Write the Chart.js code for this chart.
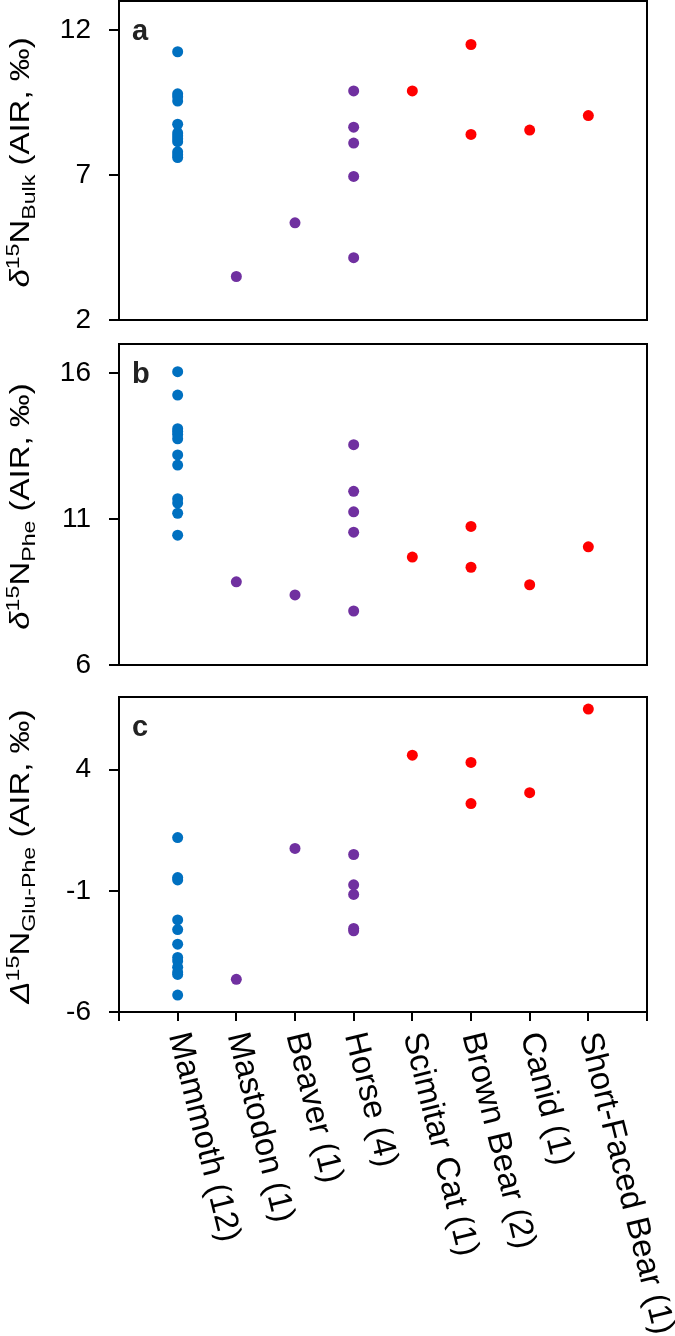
<!DOCTYPE html>
<html>
<head>
<meta charset="utf-8">
<script src="https://cdn.jsdelivr.net/npm/chart.js@4.4.1/dist/chart.umd.min.js"></script>
<style>
  html, body { margin: 0; padding: 0; background: #fff; }
  #wrap { position: relative; width: 675px; height: 1336px; overflow: hidden; background: #fff; }
  #wrap canvas { position: absolute; left: 0; }
</style>
</head>
<body>
<div id="wrap">
  <canvas id="chartA" width="675" height="370" style="top:-30px"></canvas>
  <canvas id="chartB" width="675" height="370" style="top:313px"></canvas>
  <canvas id="chartC" width="675" height="670" style="top:666px"></canvas>
</div>
<script>
// categories on the x axis, and which colour group each one belongs to
const categories = ['Mammoth (12)', 'Mastodon (1)', 'Beaver (1)', 'Horse (4)',
  'Scimitar Cat (1)', 'Brown Bear (2)', 'Canid (1)', 'Short-Faced Bear (1)'];
const categoryGroup = [0, 1, 1, 1, 2, 2, 2, 2];

// panel a: d15N bulk
const bulkN = [
  [11.25, 9.8, 9.7, 9.55, 8.75, 8.45, 8.35, 8.25, 8.15, 7.8, 7.7, 7.6],
  [3.5],
  [5.35],
  [9.9, 8.65, 8.1, 6.95, 4.15],
  [9.9],
  [11.5, 8.4],
  [8.55],
  [9.05]
];
// panel b: d15N Phe
const pheN = [
  [16.05, 15.25, 14.1, 14.0, 13.9, 13.75, 13.2, 12.85, 11.7, 11.55, 11.2, 10.45],
  [8.85],
  [8.4],
  [13.55, 11.95, 11.25, 10.55, 7.85],
  [9.7],
  [10.75, 9.35],
  [8.75],
  [10.05]
];
// panel c: D15N Glu-Phe
const gluPheN = [
  [1.2, -0.45, -0.55, -2.2, -2.6, -3.2, -3.75, -3.9, -4.15, -4.35, -4.45, -5.3],
  [-4.65],
  [0.75],
  [0.5, -0.75, -1.15, -2.55, -2.65],
  [4.6],
  [4.3, 2.6],
  [3.05],
  [6.5]
];

const ticksA = [2, 7, 12];
const ticksB = [6, 11, 16];
const ticksC = [-6, -1, 4];

const groupColors = ['#0070C0', '#7030A0', '#FF0000'];
const FONT = '"Liberation Sans", Arial, sans-serif';

// axis title with super/subscripts, drawn rotated (a bit stretched along its length like the original)
function drawTitle(ctx, parts, cx, cy, size) {
  const small = Math.round(size * 0.7);
  const fontFor = p => (p[1] === 'i' ? 'italic ' : '') +
    ((p[1] === 'sup' || p[1] === 'sub') ? small : size) + 'px ' + FONT;
  let total = 0;
  parts.forEach(p => { ctx.font = fontFor(p); total += ctx.measureText(p[0]).width; });
  ctx.save();
  ctx.translate(cx, cy);
  ctx.rotate(-Math.PI / 2);
  ctx.scale(1.22, 1);
  ctx.fillStyle = '#000';
  ctx.textBaseline = 'alphabetic';
  ctx.textAlign = 'left';
  let x = -total / 2;
  parts.forEach(p => {
    ctx.font = fontFor(p);
    const dy = p[1] === 'sup' ? -size * 0.38 : p[1] === 'sub' ? size * 0.24 : 0;
    ctx.fillText(p[0], x, dy);
    x += ctx.measureText(p[0]).width;
  });
  ctx.restore();
}

function panelDecor(letter, title, showCats) {
  return {
    id: 'decor_' + letter,
    afterDraw(chart) {
      const { ctx, chartArea: a } = chart;
      ctx.save();
      ctx.strokeStyle = '#000';
      ctx.lineWidth = 2;
      ctx.strokeRect(a.left, a.top, a.right - a.left, a.bottom - a.top);

      ctx.fillStyle = '#222';
      ctx.font = 'bold 29px ' + FONT;
      ctx.textBaseline = 'alphabetic';
      ctx.textAlign = 'left';
      ctx.fillText(letter, a.left + 13, a.top + 39);

      drawTitle(ctx, title, 29, (a.top + a.bottom) / 2 + 2, 27);

      if (showCats) {
        const xs = chart.scales.x;
        ctx.fillStyle = '#000';
        ctx.font = '33px ' + FONT;
        ctx.textBaseline = 'middle';
        categories.forEach((c, i) => {
          ctx.save();
          ctx.translate(xs.getPixelForValue(i + 1), a.bottom + 21);
          ctx.rotate(76 * Math.PI / 180);
          ctx.fillText(c, 0, 0);
          ctx.restore();
        });
      }
      ctx.restore();
    }
  };
}

function makeChart(id, values, yMin, yMax, yTicks, letter, title, padBottom, isBottom) {
  const datasets = categories.map((c, i) => ({
    label: c,
    data: values[i].map(v => ({ x: i + 1, y: v })),
    backgroundColor: groupColors[categoryGroup[i]],
    borderWidth: 0,
    pointRadius: 5.5,
    pointHoverRadius: 5.5
  }));

  return new Chart(document.getElementById(id), {
    type: 'scatter',
    data: { datasets },
    options: {
      responsive: false,
      animation: false,
      devicePixelRatio: 1,
      layout: { padding: { top: 31, right: 28, bottom: padBottom, left: 0 } },
      plugins: { legend: { display: false }, tooltip: { enabled: false } },
      scales: {
        x: {
          type: 'linear',
          min: 0,
          max: 9,
          display: isBottom,
          afterBuildTicks: s => { s.ticks = categories.concat(['', '']).map((_, i) => ({ value: i })); },
          ticks: { callback: () => '', autoSkip: false },
          grid: { drawOnChartArea: false, drawTicks: true, tickLength: 9, color: '#000', lineWidth: 2 },
          border: { display: true, color: '#000', width: 2 },
          afterFit: s => {
            if (isBottom) s.height = 10;
            s.paddingLeft = 0; s.paddingRight = 0;
          }
        },
        y: {
          min: yMin,
          max: yMax,
          afterBuildTicks: s => { s.ticks = yTicks.map(v => ({ value: v })); },
          ticks: { font: { size: 28, family: FONT }, color: '#000', padding: 18 },
          grid: { drawOnChartArea: false, drawTicks: true, tickLength: 10, color: '#000', lineWidth: 2 },
          border: { display: true, color: '#000', width: 2 },
          afterFit: s => { s.width = 119; s.paddingTop = 0; s.paddingBottom = 0; }
        }
      }
    },
    plugins: [panelDecor(letter, title, isBottom)]
  });
}

makeChart('chartA', bulkN, 2, 13, ticksA, 'a',
  [['δ', 'i'], ['15', 'sup'], ['N', ''], ['Bulk', 'sub'], [' (AIR, ‰)', '']], 20, false);
makeChart('chartB', pheN, 6, 17, ticksB, 'b',
  [['δ', 'i'], ['15', 'sup'], ['N', ''], ['Phe', 'sub'], [' (AIR, ‰)', '']], 18, false);
makeChart('chartC', gluPheN, -6, 7, ticksC, 'c',
  [['Δ', 'i'], ['15', 'sup'], ['N', ''], ['Glu-Phe', 'sub'], [' (AIR, ‰)', '']], 314, true);
</script>
</body>
</html>
